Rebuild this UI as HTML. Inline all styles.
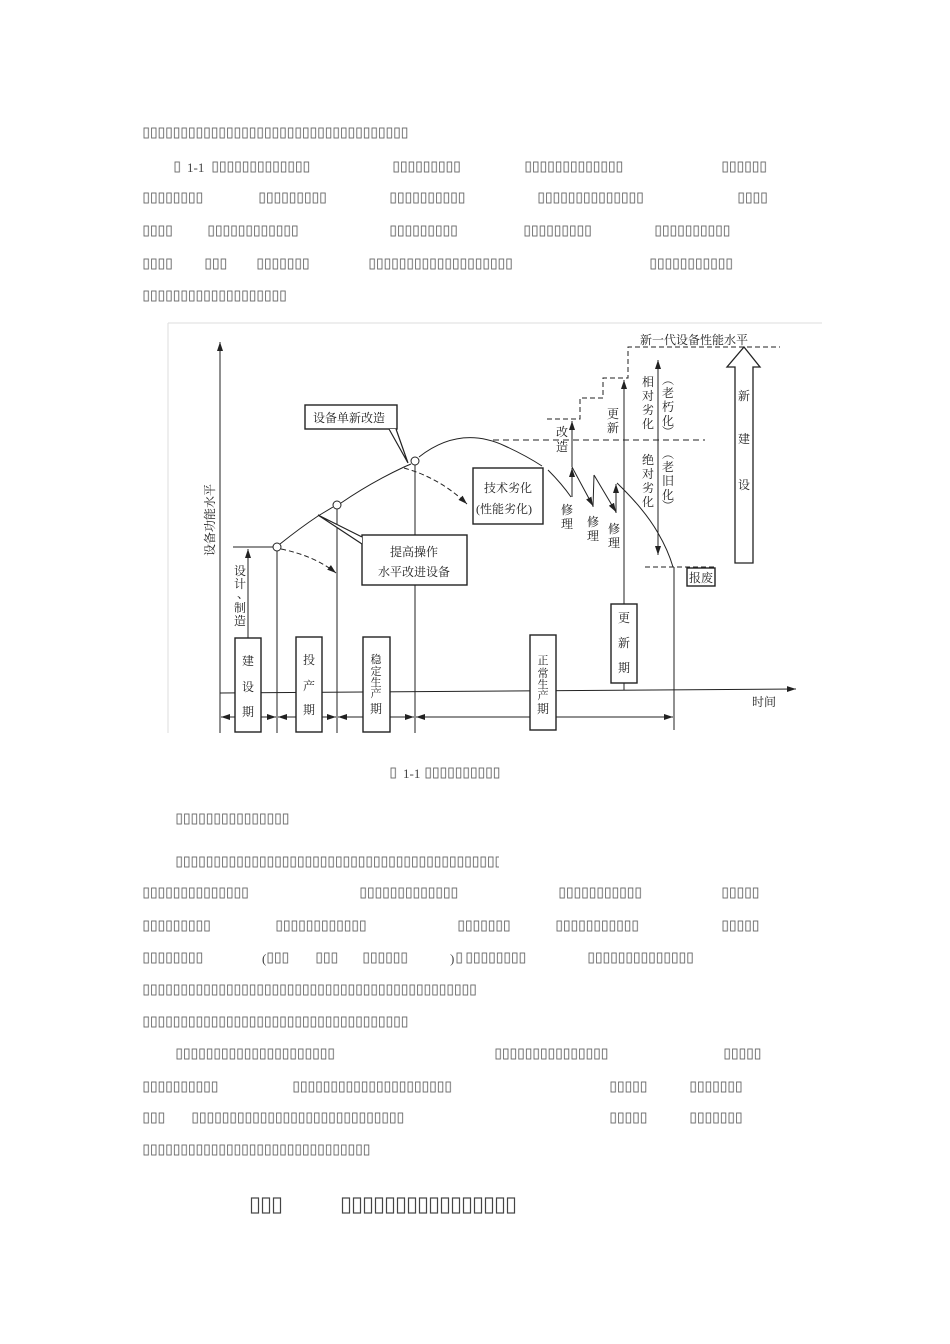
<!DOCTYPE html>
<html><head><meta charset="utf-8"><style>
html,body{margin:0;padding:0;background:#fff;}
svg{display:block;}
.d{font-family:"Liberation Serif","Noto Serif CJK SC",serif;font-size:12px;fill:#222;}
.n{font-family:"Liberation Serif",serif;font-size:13px;fill:#444;}
</style></head><body>
<svg width="950" height="1344" viewBox="0 0 950 1344" xmlns="http://www.w3.org/2000/svg">
<defs>
<pattern id="p" width="7.6" height="12" patternUnits="userSpaceOnUse">
<rect x="1" y="1" width="4.4" height="10" fill="none" stroke="#666" stroke-width="0.9"/>
</pattern>
<pattern id="h" width="11" height="18" patternUnits="userSpaceOnUse">
<rect x="1.5" y="1" width="7" height="15" fill="none" stroke="#444" stroke-width="1.2"/>
</pattern>
<marker id="a" markerWidth="10" markerHeight="8" refX="9" refY="4" orient="auto" markerUnits="userSpaceOnUse">
<path d="M0,1 L9,4 L0,7 Z" fill="#222"/>
</marker>
<marker id="b" markerWidth="10" markerHeight="8" refX="1" refY="4" orient="auto" markerUnits="userSpaceOnUse">
<path d="M10,1 L1,4 L10,7 Z" fill="#222"/>
</marker>
</defs>

<g fill="url(#p)">
<rect transform="translate(143,127)" width="266" height="12"/>
<rect transform="translate(174,161)" width="7.6" height="12"/>
<rect transform="translate(212,161)" width="98.8" height="12"/><rect transform="translate(393,161)" width="68.4" height="12"/><rect transform="translate(525,161)" width="98.8" height="12"/><rect transform="translate(722,161)" width="45.6" height="12"/>
<rect transform="translate(143,192)" width="60.8" height="12"/><rect transform="translate(259,192)" width="68.4" height="12"/><rect transform="translate(390,192)" width="76" height="12"/><rect transform="translate(538,192)" width="106.4" height="12"/><rect transform="translate(738,192)" width="30.4" height="12"/>
<rect transform="translate(143,225)" width="30.4" height="12"/><rect transform="translate(208,225)" width="91.2" height="12"/><rect transform="translate(390,225)" width="68.4" height="12"/><rect transform="translate(524,225)" width="68.4" height="12"/><rect transform="translate(655,225)" width="76" height="12"/>
<rect transform="translate(143,258)" width="30.4" height="12"/><rect transform="translate(205,258)" width="22.8" height="12"/><rect transform="translate(257,258)" width="53.2" height="12"/><rect transform="translate(369,258)" width="144.4" height="12"/><rect transform="translate(650,258)" width="83.6" height="12"/>
<rect transform="translate(143,290)" width="144.4" height="12"/>
<rect transform="translate(390,767)" width="7.6" height="12"/><rect transform="translate(425,767)" width="76" height="12"/>
<rect transform="translate(176,813)" width="114" height="12"/>
<rect transform="translate(176,856)" width="323" height="12"/>
<rect transform="translate(143,887)" width="106.4" height="12"/><rect transform="translate(360,887)" width="98.8" height="12"/><rect transform="translate(559,887)" width="83.6" height="12"/><rect transform="translate(722,887)" width="38" height="12"/>
<rect transform="translate(143,920)" width="68.4" height="12"/><rect transform="translate(276,920)" width="91.2" height="12"/><rect transform="translate(458,920)" width="53.2" height="12"/><rect transform="translate(556,920)" width="83.6" height="12"/><rect transform="translate(722,920)" width="38" height="12"/>
<rect transform="translate(143,952)" width="60.8" height="12"/><rect transform="translate(267,952)" width="22.8" height="12"/><rect transform="translate(316,952)" width="22.8" height="12"/><rect transform="translate(363,952)" width="45.6" height="12"/><rect transform="translate(456,952)" width="7.6" height="12"/><rect transform="translate(466,952)" width="60.8" height="12"/><rect transform="translate(588,952)" width="106.4" height="12"/>
<rect transform="translate(143,984)" width="334.4" height="12"/>
<rect transform="translate(143,1016)" width="266" height="12"/>
<rect transform="translate(176,1048)" width="159.6" height="12"/><rect transform="translate(495,1048)" width="114" height="12"/><rect transform="translate(724,1048)" width="38" height="12"/>
<rect transform="translate(143,1081)" width="76" height="12"/><rect transform="translate(293,1081)" width="159.6" height="12"/><rect transform="translate(610,1081)" width="38" height="12"/><rect transform="translate(690,1081)" width="53.2" height="12"/>
<rect transform="translate(143,1112)" width="22.8" height="12"/><rect transform="translate(192,1112)" width="212.8" height="12"/><rect transform="translate(610,1112)" width="38" height="12"/><rect transform="translate(690,1112)" width="53.2" height="12"/>
<rect transform="translate(143,1144)" width="228" height="12"/>
</g>
<g fill="url(#h)">
<rect transform="translate(250,1197)" width="33" height="18"/><rect transform="translate(341,1197)" width="176" height="18"/>
</g>
<text class="n" x="187" y="172">1-1</text>
<text class="n" x="403" y="778">1-1</text>
<text class="n" x="262" y="963">(</text>
<text class="n" x="450" y="963">)</text>

<path d="M168,323 H822 M168,323 V733" stroke="#ddd" stroke-width="1" fill="none"/>

<g stroke="#222" stroke-width="1" fill="none">
<line x1="220" y1="733" x2="220" y2="342" marker-end="url(#a)"/>
<line x1="220" y1="693" x2="796" y2="689" marker-end="url(#a)"/>
<line x1="277" y1="551" x2="277" y2="733"/>
<line x1="337" y1="509" x2="337" y2="733"/>
<line x1="415" y1="465" x2="415" y2="733"/>
<line x1="674" y1="567" x2="674" y2="730"/>
<line x1="624" y1="690" x2="624" y2="380" marker-end="url(#a)"/>
<line x1="221" y1="717" x2="276" y2="717" marker-start="url(#b)" marker-end="url(#a)"/>
<line x1="278" y1="717" x2="336" y2="717" marker-start="url(#b)" marker-end="url(#a)"/>
<line x1="338" y1="717" x2="414" y2="717" marker-start="url(#b)" marker-end="url(#a)"/>
<line x1="416" y1="717" x2="673" y2="717" marker-start="url(#b)" marker-end="url(#a)"/>
<line x1="248" y1="638" x2="248" y2="549" marker-end="url(#a)"/>
<line x1="233" y1="547" x2="273" y2="547"/>
<path d="M280,544 Q300,528 318,516 L333,507"/>
<path d="M341,503 Q370,483 404,467 L411,464"/>
<path d="M419,457 Q460,425 505,446 Q525,455 542,466"/>
<path d="M281,549 Q315,556 336,573" stroke-dasharray="5,3" marker-end="url(#a)"/>
<path d="M404,468 Q440,478 467,504" stroke-dasharray="5,3" marker-end="url(#a)"/>
<line x1="493" y1="440" x2="705" y2="440" stroke-dasharray="6,4"/>
<circle cx="277" cy="547" r="4" fill="#fff"/>
<circle cx="337" cy="505" r="4" fill="#fff"/>
<circle cx="415" cy="461" r="4" fill="#fff"/>
<rect x="305" y="405" width="92" height="24" fill="#fff" stroke-width="1.4"/>
<path d="M389,429 L408,463 L396,429" fill="#fff" stroke-width="1.2"/>
<rect x="473" y="468" width="70" height="56" fill="#fff" stroke-width="1.4"/>
<rect x="362" y="535" width="105" height="50" fill="#fff" stroke-width="1.4"/>
<path d="M362,537 L318,515 L362,544" fill="#fff" stroke-width="1.2"/>
<rect x="235" y="638" width="26" height="94" fill="#fff" stroke-width="1.4"/>
<rect x="296" y="637" width="26" height="95" fill="#fff" stroke-width="1.4"/>
<rect x="363" y="637" width="27" height="95" fill="#fff" stroke-width="1.4"/>
<rect x="530" y="635" width="26" height="95" fill="#fff" stroke-width="1.4"/>
<rect x="611" y="604" width="26" height="79" fill="#fff" stroke-width="1.4"/>
<rect x="687" y="568" width="28" height="18" fill="#fff" stroke-width="1.4"/>
<path d="M548,470 Q562,484 571,497"/>
<line x1="572" y1="497" x2="572" y2="468" marker-end="url(#a)"/>
<line x1="572" y1="467" x2="593" y2="506" marker-end="url(#a)"/>
<line x1="594" y1="475" x2="616" y2="512" marker-end="url(#a)"/>
<line x1="593" y1="507" x2="594" y2="475"/>
<line x1="616" y1="513" x2="616" y2="484" marker-end="url(#a)"/>
<path d="M617,483 Q645,510 658,533 Q668,550 673,567"/>
<line x1="572" y1="467" x2="572" y2="421" marker-end="url(#a)"/>
<path d="M547,419 H580 V398 H603 V378 H628 V347 H780" stroke-dasharray="5,3"/>
<line x1="645" y1="567" x2="716" y2="567" stroke-dasharray="5,3"/>
<line x1="658" y1="360" x2="658" y2="555" marker-start="url(#b)" marker-end="url(#a)"/>
<path d="M735,563 V367 H727 L744,347 L760,367 H753 V563 Z" stroke-width="1.3"/>
</g>

<g class="d">
<text x="640" y="344">新一代设备性能水平</text>
<text x="313" y="422">设备单新改造</text>
<text x="484" y="492">技术劣化</text>
<text x="476" y="513">(性能劣化)</text>
<text x="390" y="556">提高操作</text>
<text x="378" y="576">水平改进设备</text>
<text x="752" y="706">时间</text>
<text x="713" y="582" text-anchor="end">报废</text>
<text transform="translate(214,556) rotate(-90)" font-size="12">设备功能水平</text>
</g>
<g class="d" text-anchor="middle">
<text x="240" y="575">设</text><text x="240" y="588">计</text><text x="243" y="598">、</text>
<text x="240" y="612">制</text><text x="240" y="625">造</text>
<text x="248" y="665">建</text><text x="248" y="691">设</text><text x="248" y="716">期</text>
<text x="309" y="664">投</text><text x="309" y="690">产</text><text x="309" y="714">期</text>
<text x="376" y="663" font-size="11">稳</text><text x="376" y="675" font-size="11">定</text><text x="376" y="686" font-size="11">生</text><text x="376" y="697" font-size="11">产</text><text x="376" y="713">期</text>
<text x="543" y="664" font-size="11">正</text><text x="543" y="677" font-size="11">常</text><text x="543" y="688" font-size="11">生</text><text x="543" y="699" font-size="11">产</text><text x="543" y="713">期</text>
<text x="624" y="622">更</text><text x="624" y="647">新</text><text x="624" y="672">期</text>
<text x="562" y="436">改</text><text x="562" y="451">造</text>
<text x="613" y="418">更</text><text x="613" y="432">新</text>
<text x="567" y="514">修</text><text x="567" y="528">理</text>
<text x="593" y="526">修</text><text x="593" y="540">理</text>
<text x="614" y="533">修</text><text x="614" y="547">理</text>
<text x="648" y="386">相</text><text x="648" y="400">对</text><text x="648" y="414">劣</text><text x="648" y="428">化</text>
<text x="648" y="464">绝</text><text x="648" y="478">对</text><text x="648" y="492">劣</text><text x="648" y="506">化</text>
<text x="668" y="384">︵</text><text x="668" y="397">老</text><text x="668" y="411">朽</text><text x="668" y="425">化</text><text x="668" y="436">︶</text>
<text x="668" y="458">︵</text><text x="668" y="471">老</text><text x="668" y="485">旧</text><text x="668" y="499">化</text><text x="668" y="510">︶</text>
<text x="744" y="400">新</text><text x="744" y="443">建</text><text x="744" y="489">设</text>
</g>
</svg>
</body></html>
